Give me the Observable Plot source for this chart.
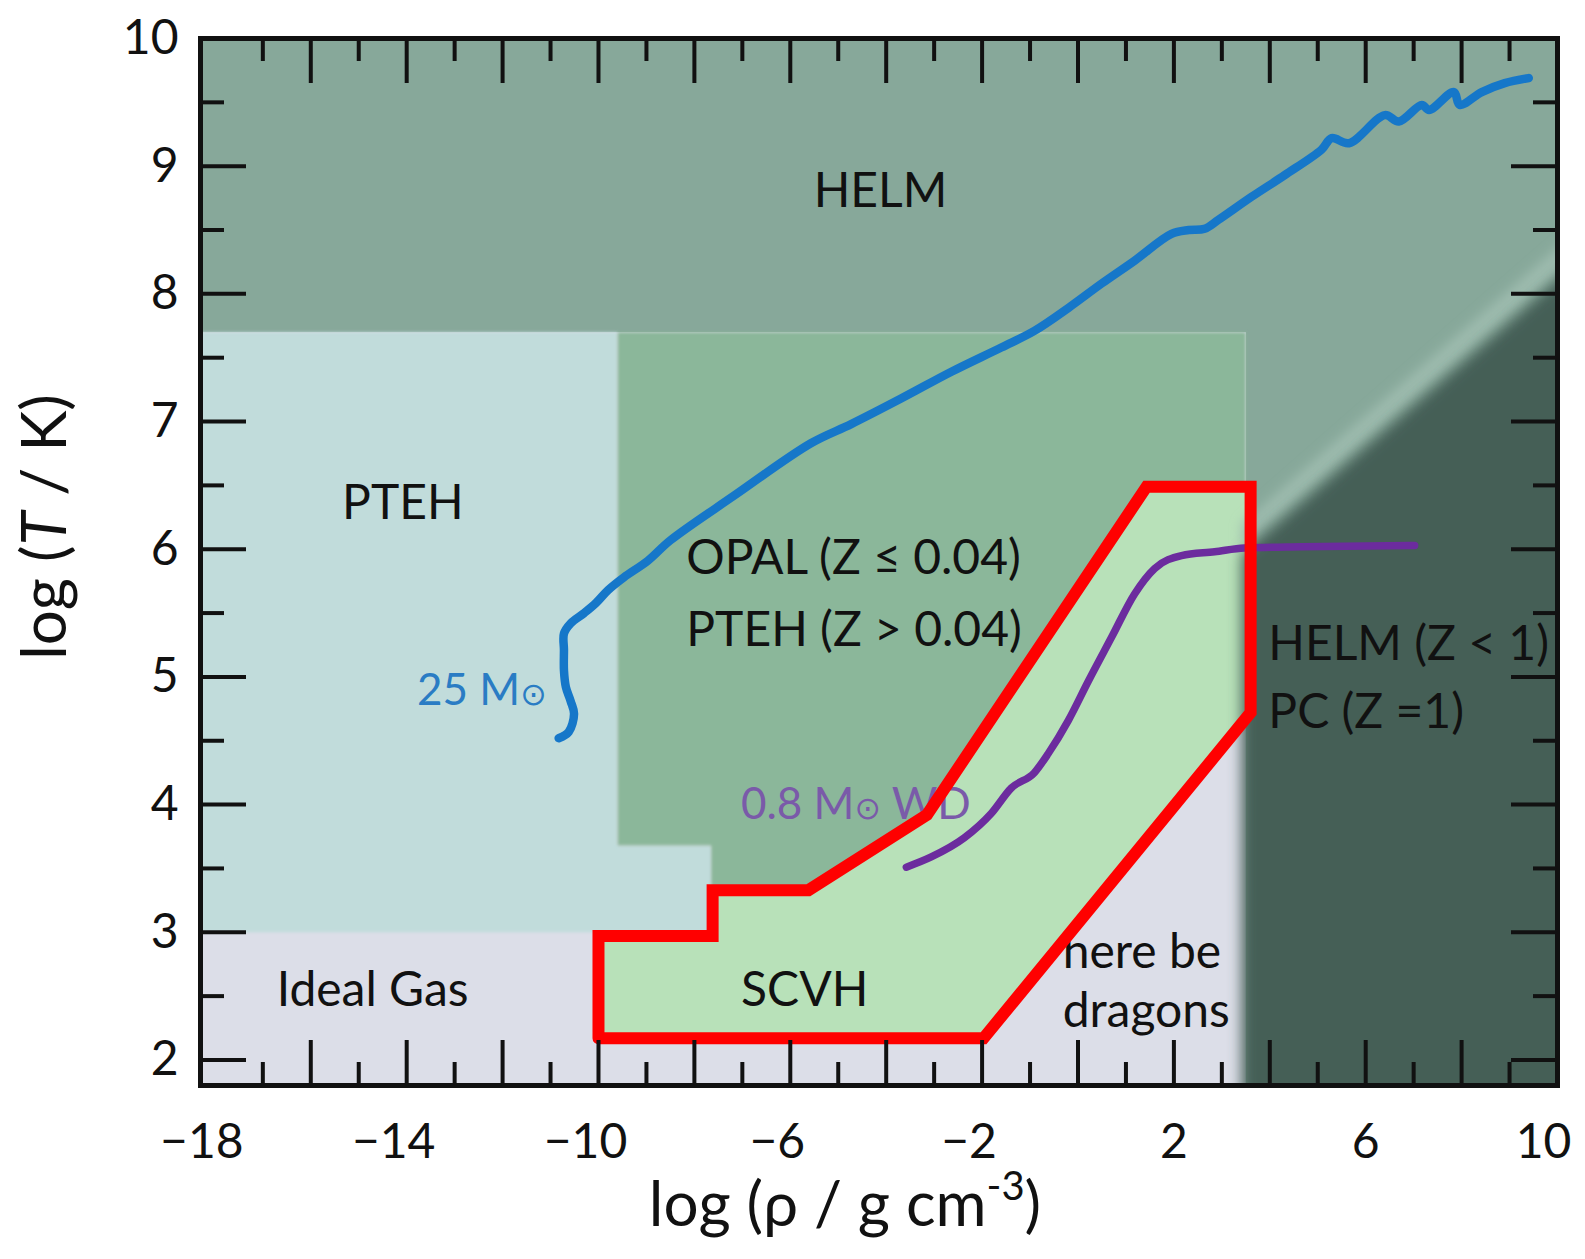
<!DOCTYPE html>
<html>
<head>
<meta charset="utf-8">
<script src="https://cdn.jsdelivr.net/npm/d3@7"></script>
<script src="https://cdn.jsdelivr.net/npm/@observablehq/plot@0.6"></script>
<style>
  body { margin: 0; background: #fff; }
  svg { font-family: Lato, "Noto Sans", sans-serif; }
</style>
</head>
<body>
<div id="chart"></div>
<script>
// ---- axes ----
const xDomain = [-18.3, 10];
const yDomain = [1.8, 10];
const xTickLabelsNeg = [-18, -14, -10, -6, -2];
const xTickLabelsPos = [2, 6];
const xTickLabelsEnd = [10];
const yTickLabels = [2, 3, 4, 5, 6, 7, 8, 9, 10];
const xMajorTicks = [-16, -14, -12, -10, -8, -6, -4, -2, 0, 2, 4, 6, 8];
const xMinorTicks = [-17, -15, -13, -11, -9, -7, -5, -3, -1, 1, 3, 5, 7, 9];
const yMajorTicks = [2, 3, 4, 5, 6, 7, 8, 9];
const yMinorTicks = [2.5, 3.5, 4.5, 5.5, 6.5, 7.5, 8.5, 9.5];

// ---- EOS regions [log rho, log T] ----
const helmRegion = [[-18.3, 10], [10, 10], [10, 1.8], [3.5, 1.8], [3.5, 7.7], [-18.3, 7.7]];
const ptehRegion = [[-18.3, 7.7], [-9.6, 7.7], [-9.6, 3.68], [-7.65, 3.68], [-7.65, 3.0], [-18.3, 3.0]];
const opalRegion = [[-9.6, 7.7], [3.5, 7.7], [3.5, 4.72], [-1.97, 2.17], [-7.65, 2.17], [-7.65, 3.68], [-9.6, 3.68]];
const scvhRegion = [[-10, 2.17], [-10, 2.97], [-7.62, 2.97], [-7.62, 3.33], [-5.62, 3.33], [-3.15, 3.92],
                    [1.43, 6.49], [3.6, 6.49], [3.6, 4.72], [-1.97, 2.17], [-10, 2.17]];
const pcRegion = [[3.42, 1.6], [3.42, 5.96], [10.6, 8.3], [10.6, 1.6]];
const ridgeRegion = [[3.42, 6.02], [10.6, 8.36], [10.6, 8.56], [3.42, 6.2]];

// ---- tracks ----
const track25 = [
  [-10.83, 4.52], [-10.62, 4.57], [-10.51, 4.71], [-10.58, 4.81], [-10.68, 4.92], [-10.72, 5.05],
  [-10.72, 5.21], [-10.72, 5.34], [-10.58, 5.42], [-10.30, 5.50], [-10.05, 5.58], [-9.80, 5.68],
  [-9.47, 5.78], [-8.97, 5.91], [-8.50, 6.07], [-7.17, 6.42], [-5.57, 6.83], [-4.73, 6.98],
  [-3.69, 7.18], [-2.64, 7.39], [-1.60, 7.58], [-0.91, 7.71], [-0.20, 7.89], [0.49, 8.08],
  [1.18, 8.26], [1.95, 8.47], [2.31, 8.50], [2.64, 8.51], [2.93, 8.58], [3.62, 8.76],
  [4.31, 8.93], [5.08, 9.13], [5.29, 9.22], [5.65, 9.18], [6.40, 9.40], [6.69, 9.35],
  [7.17, 9.48], [7.32, 9.44], [7.84, 9.58], [7.96, 9.48], [8.42, 9.58], [8.90, 9.65], [9.40, 9.69]
];
const trackWD = [
  [-3.58, 3.51], [-3.06, 3.59], [-2.37, 3.74], [-1.81, 3.93], [-1.39, 4.13], [-0.91, 4.25],
  [-0.62, 4.40], [-0.20, 4.66], [0.22, 4.97], [0.70, 5.31], [1.18, 5.65], [1.60, 5.85],
  [2.16, 5.95], [2.85, 5.98], [3.47, 6.01], [4.66, 6.02], [7.02, 6.03]
];

// ---- labels ----
const centeredLabels = [
  {text: "HELM", x: -4.12, y: 8.80},
  {text: "PTEH", x: -14.08, y: 6.36},
  {text: "Ideal Gas", x: -14.71, y: 2.54},
  {text: "SCVH", x: -5.70, y: 2.54}
];
const startLabels = [
  {text: "OPAL (Z ≤ 0.04)", x: -8.17, y: 5.93},
  {text: "PTEH (Z > 0.04)", x: -8.17, y: 5.36},
  {text: "HELM (Z < 1)", x: 3.97, y: 5.25},
  {text: "PC (Z =1)", x: 3.97, y: 4.72},
  {text: "here be", x: -0.32, y: 2.84},
  {text: "dragons", x: -0.32, y: 2.38}
];
const label25 = [{text: "25 M⊙", x: -11.08, y: 4.89}];
const labelWD = [{text: "0.8 M⊙ WD", x: -7.03, y: 4.00}];
const xTitle = ["log (ρ / g cm|-3|)"];
const yTitle = ["log (|T| / K)"];

// ---- colours ----
const C = {
  gray: "#dcdee8", helm: "#87a89a", pteh: "#c1dcdb", opal: "#8bb79a", scvh: "#b8e1b9",
  ridge: "#9dbbae", pc: "#455e56", blue: "#1677c9", purple: "#6c2c9e", red: "#ff0000", ink: "#111111"
};

// ---- layout ----
const W = 1585, H = 1259, mL = 200, mR = 28, mT = 38, mB = 174;
const frameW = W - mL - mR, frameH = H - mT - mB;
const px = d => d[0], py = d => d[1];
const fmt = d => d < 0 ? "\u2212" + Math.abs(d) : String(d);
const poly = (data, fill) => Plot.line(data, {x: px, y: py, fill, stroke: "none"});
const axisOpts = {tickSize: 0, tickPadding: 38, fontSize: 48, tickFormat: fmt, label: null, fill: C.ink};

const svg = Plot.plot({
  width: W, height: H,
  marginLeft: mL, marginRight: mR, marginTop: mT, marginBottom: mB,
  x: {domain: xDomain, axis: null},
  y: {domain: yDomain, axis: null},
  style: {fontFamily: "Lato, 'Noto Sans', sans-serif", fontSize: "48px", color: C.ink, background: "#fff"},
  marks: [
    Plot.frame({fill: C.gray, stroke: "none"}),
    poly(helmRegion, C.helm),
    poly(ptehRegion, C.pteh),
    poly(opalRegion, C.opal),
    poly(scvhRegion, C.scvh),
    poly(ridgeRegion, C.ridge),
    poly(pcRegion, C.pc),
    Plot.line(track25, {x: px, y: py, stroke: C.blue, strokeWidth: 8.5, curve: "catmull-rom", strokeLinejoin: "round", strokeLinecap: "round"}),
    Plot.line(trackWD, {x: px, y: py, stroke: C.purple, strokeWidth: 7.5, curve: "monotone-x", strokeLinecap: "round"}),
    Plot.text(centeredLabels, {x: "x", y: "y", text: "text", fontSize: 48, fill: C.ink, textAnchor: "middle"}),
    Plot.text(startLabels, {x: "x", y: "y", text: "text", fontSize: 48, fill: C.ink, textAnchor: "start"}),
    Plot.text(label25, {x: "x", y: "y", text: "text", fontSize: 44, fill: "#2a7cc4", textAnchor: "end"}),
    Plot.text(labelWD, {x: "x", y: "y", text: "text", fontSize: 44, fill: "#7a5aa9", textAnchor: "start"}),
    Plot.line(scvhRegion, {x: px, y: py, stroke: C.red, strokeWidth: 12, strokeLinejoin: "miter", strokeMiterlimit: 4}),
    // inward ticks on all four sides
    Plot.tickX(xMajorTicks, {x: d => d, insetTop: frameH - 45, stroke: C.ink, strokeWidth: 4}),
    Plot.tickX(xMinorTicks, {x: d => d, insetTop: frameH - 23, stroke: C.ink, strokeWidth: 4}),
    Plot.tickX(xMajorTicks, {x: d => d, insetBottom: frameH - 45, stroke: C.ink, strokeWidth: 4}),
    Plot.tickX(xMinorTicks, {x: d => d, insetBottom: frameH - 23, stroke: C.ink, strokeWidth: 4}),
    Plot.tickY(yMajorTicks, {y: d => d, insetRight: frameW - 46, stroke: C.ink, strokeWidth: 4}),
    Plot.tickY(yMinorTicks, {y: d => d, insetRight: frameW - 24, stroke: C.ink, strokeWidth: 4}),
    Plot.tickY(yMajorTicks, {y: d => d, insetLeft: frameW - 46, stroke: C.ink, strokeWidth: 4}),
    Plot.tickY(yMinorTicks, {y: d => d, insetLeft: frameW - 24, stroke: C.ink, strokeWidth: 4}),
    Plot.frame({stroke: C.ink, strokeWidth: 5}),
    Plot.axisX({...axisOpts, ticks: xTickLabelsNeg, dx: -13}),
    Plot.axisX({...axisOpts, ticks: xTickLabelsPos}),
    Plot.axisX({...axisOpts, ticks: xTickLabelsEnd, dx: -14}),
    Plot.axisY({...axisOpts, ticks: yTickLabels, tickPadding: 22}),
    Plot.text(xTitle, {frameAnchor: "bottom", text: d => d, dx: -34, dy: 140, fontSize: 62, fill: C.ink, textAnchor: "middle"}),
    Plot.text(yTitle, {frameAnchor: "left", text: d => d, dx: -154, dy: -35, rotate: -90, fontSize: 62, fill: C.ink, textAnchor: "middle"})
  ]
});

// ---- styling touches: blur, clipping, rich text ----
const s = d3.select(svg);
const defs = s.insert("defs", ":first-child");
const f1 = defs.append("filter").attr("id", "blurStrong").attr("x", "-10%").attr("y", "-10%").attr("width", "120%").attr("height", "120%");
f1.append("feGaussianBlur").attr("stdDeviation", 7);
const f3 = defs.append("filter").attr("id", "blurRidge").attr("x", "-10%").attr("y", "-10%").attr("width", "120%").attr("height", "120%");
f3.append("feGaussianBlur").attr("stdDeviation", 6);
const f2 = defs.append("filter").attr("id", "blurSoft").attr("x", "-5%").attr("y", "-5%").attr("width", "110%").attr("height", "110%");
f2.append("feGaussianBlur").attr("stdDeviation", 1.8);
defs.append("clipPath").attr("id", "frameClip").append("rect")
  .attr("x", mL).attr("y", mT).attr("width", frameW).attr("height", frameH);
const byFill = c => s.selectAll("g").filter(function () {
  return (this.getAttribute("fill") || "").toLowerCase() === c.toLowerCase() && this.querySelector("path");
});
byFill(C.pc).attr("filter", "url(#blurStrong)").attr("clip-path", "url(#frameClip)");
byFill(C.ridge).attr("filter", "url(#blurRidge)").attr("clip-path", "url(#frameClip)");
[C.pteh, C.opal, C.scvh].forEach(c => byFill(c).attr("filter", "url(#blurSoft)").attr("clip-path", "url(#frameClip)"));

// rich text: small sun symbol, superscript, italic T
s.selectAll("text").each(function () {
  const t = d3.select(this);
  const content = this.textContent;
  if (content.includes("⊙")) {
    const parts = content.split("⊙");
    t.text(null);
    t.append("tspan").text(parts[0]);
    t.append("tspan").attr("font-size", "0.72em").attr("font-family", "DejaVu Sans").text("⊙");
    if (parts[1]) t.append("tspan").text(parts[1]);
  } else if (content === xTitle[0]) {
    const [a, sup, b] = content.split("|");
    t.text(null);
    t.append("tspan").text(a);
    t.append("tspan").attr("font-size", 40).attr("dy", -26).text(sup);
    t.append("tspan").attr("dy", 26).text(b);
  } else if (content === yTitle[0]) {
    const [a, it, b] = content.split("|");
    t.text(null);
    t.append("tspan").text(a);
    t.append("tspan").attr("font-style", "italic").text(it);
    t.append("tspan").text(b);
  }
});

document.getElementById("chart").appendChild(svg);
</script>
</body>
</html>
